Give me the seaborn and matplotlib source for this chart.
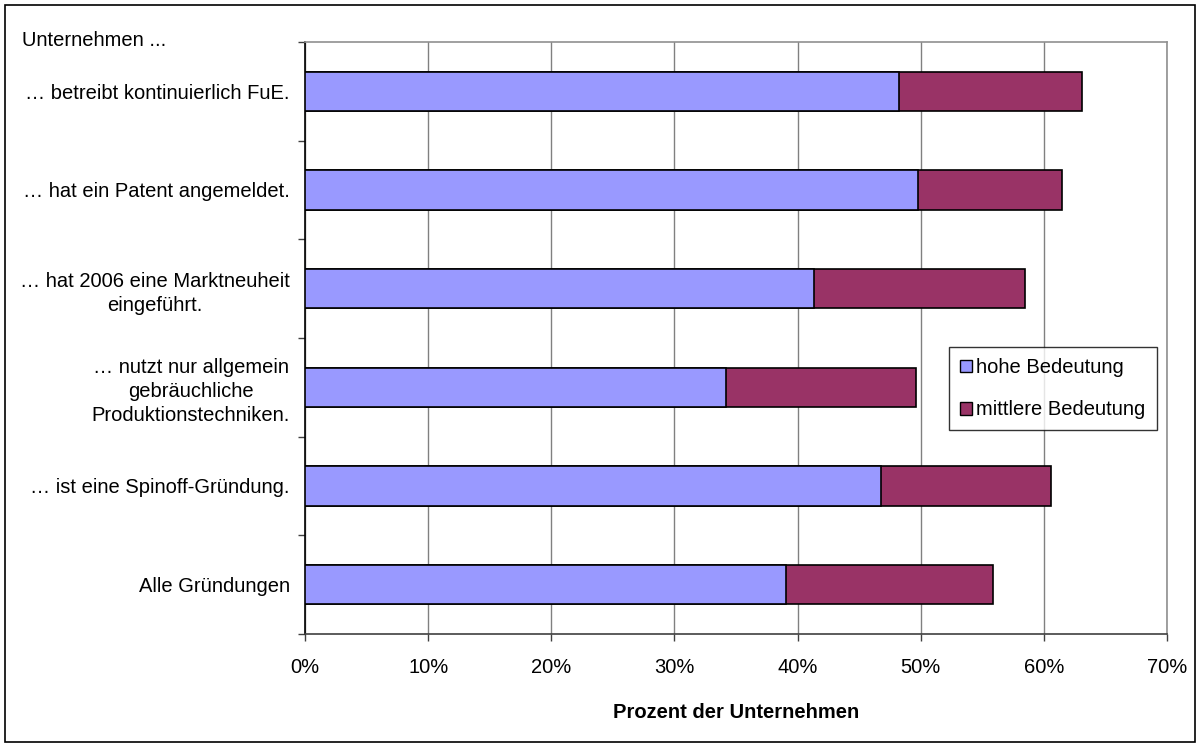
import matplotlib
matplotlib.use("Agg")
import matplotlib.pyplot as plt
import seaborn as sns
import pandas as pd
import numpy as np
from matplotlib.patches import Patch
from matplotlib.ticker import FixedLocator, FuncFormatter

categories = [
    "… betreibt kontinuierlich FuE.",
    "… hat ein Patent angemeldet.",
    "… hat 2006 eine Marktneuheit\neingeführt.",
    "… nutzt nur allgemein\ngebräuchliche\nProduktionstechniken.",
    "… ist eine Spinoff-Gründung.",
    "Alle Gründungen",
]
hohe = [48.2, 49.8, 41.3, 34.2, 46.8, 39.05]
mittlere = [14.9, 11.7, 17.2, 15.4, 13.8, 16.85]
series_names = ["hohe Bedeutung", "mittlere Bedeutung"]
colors = ["#9999FF", "#993366"]

df = pd.DataFrame({"cat": categories, "hohe": hohe, "mittlere": mittlere})
df["total"] = df["hohe"] + df["mittlere"]

sns.set_theme(style="white")
plt.rcParams["font.family"] = ["Liberation Sans", "DejaVu Sans"]
plt.rcParams["text.color"] = "black"
plt.rcParams["xtick.color"] = "black"
plt.rcParams["ytick.color"] = "black"
plt.rcParams["axes.labelcolor"] = "black"

FS = 14.5

fig = plt.figure(figsize=(12, 7.47), dpi=100)
ax = fig.add_axes([0.2542, 0.1513, 0.7183, 0.7925])

sns.barplot(data=df, y="cat", x="total", orient="h", color=colors[1],
            edgecolor="black", linewidth=1.2, width=0.4, ax=ax, zorder=3,
            saturation=1)
sns.barplot(data=df, y="cat", x="hohe", orient="h", color=colors[0],
            edgecolor="black", linewidth=1.2, width=0.4, ax=ax, zorder=4,
            saturation=1)

ax.set_xlim(0, 70)
ax.set_ylim(len(categories) - 0.5, -0.5)
ax.set_xticks(np.arange(0, 71, 10))
ax.xaxis.set_major_formatter(FuncFormatter(lambda v, p: f"{int(round(v))}%"))
ax.xaxis.grid(True, color="#808080", linewidth=1.0, zorder=0)
ax.yaxis.grid(False)
ax.set_axisbelow(True)

ax.tick_params(axis="x", which="major", direction="out", length=5, width=1,
               color="#404040", labelsize=FS, pad=12, bottom=True)
ax.tick_params(axis="y", which="major", length=0, labelsize=FS, pad=11)
ax.yaxis.set_minor_locator(FixedLocator(np.arange(-0.5, len(categories), 1.0)))
ax.tick_params(axis="y", which="minor", direction="out", length=5, width=1,
               color="#404040", left=True)
for lbl in ax.get_yticklabels():
    lbl.set_multialignment("center")
    lbl.set_linespacing(1.33)

ax.set_ylabel("")
ax.set_xlabel("Prozent der Unternehmen", fontsize=FS, fontweight="bold",
              labelpad=19)

for side in ["top", "right"]:
    ax.spines[side].set_color("#909090")
    ax.spines[side].set_linewidth(1.2)
ax.spines["left"].set_color("black")
ax.spines["left"].set_linewidth(1.2)
ax.spines["bottom"].set_color("#404040")
ax.spines["bottom"].set_linewidth(1.2)

fig.text(22 / 1200, 1 - 40 / 747, "Unternehmen ...", fontsize=FS,
         ha="left", va="center")

handles = [Patch(facecolor=c, edgecolor="black", linewidth=1.0) for c in colors]
leg = ax.legend(handles, series_names, loc="upper left",
                bbox_to_anchor=((949 - 305) / 862, 1 - (347 - 42) / 592),
                frameon=True, fancybox=False, fontsize=FS,
                handlelength=0.6, handleheight=0.6, handletextpad=0.2,
                labelspacing=1.15, borderpad=0.55, borderaxespad=0)
leg.get_frame().set_edgecolor("black")
leg.get_frame().set_linewidth(1.0)
leg.set_zorder(10)

fig.patches.append(plt.Rectangle((5 / 1200, 5 / 747), 1190 / 1200, 737 / 747,
                                 transform=fig.transFigure, fill=False,
                                 edgecolor="black", linewidth=1.2))

fig.savefig("out.png", dpi=100, facecolor="white")
